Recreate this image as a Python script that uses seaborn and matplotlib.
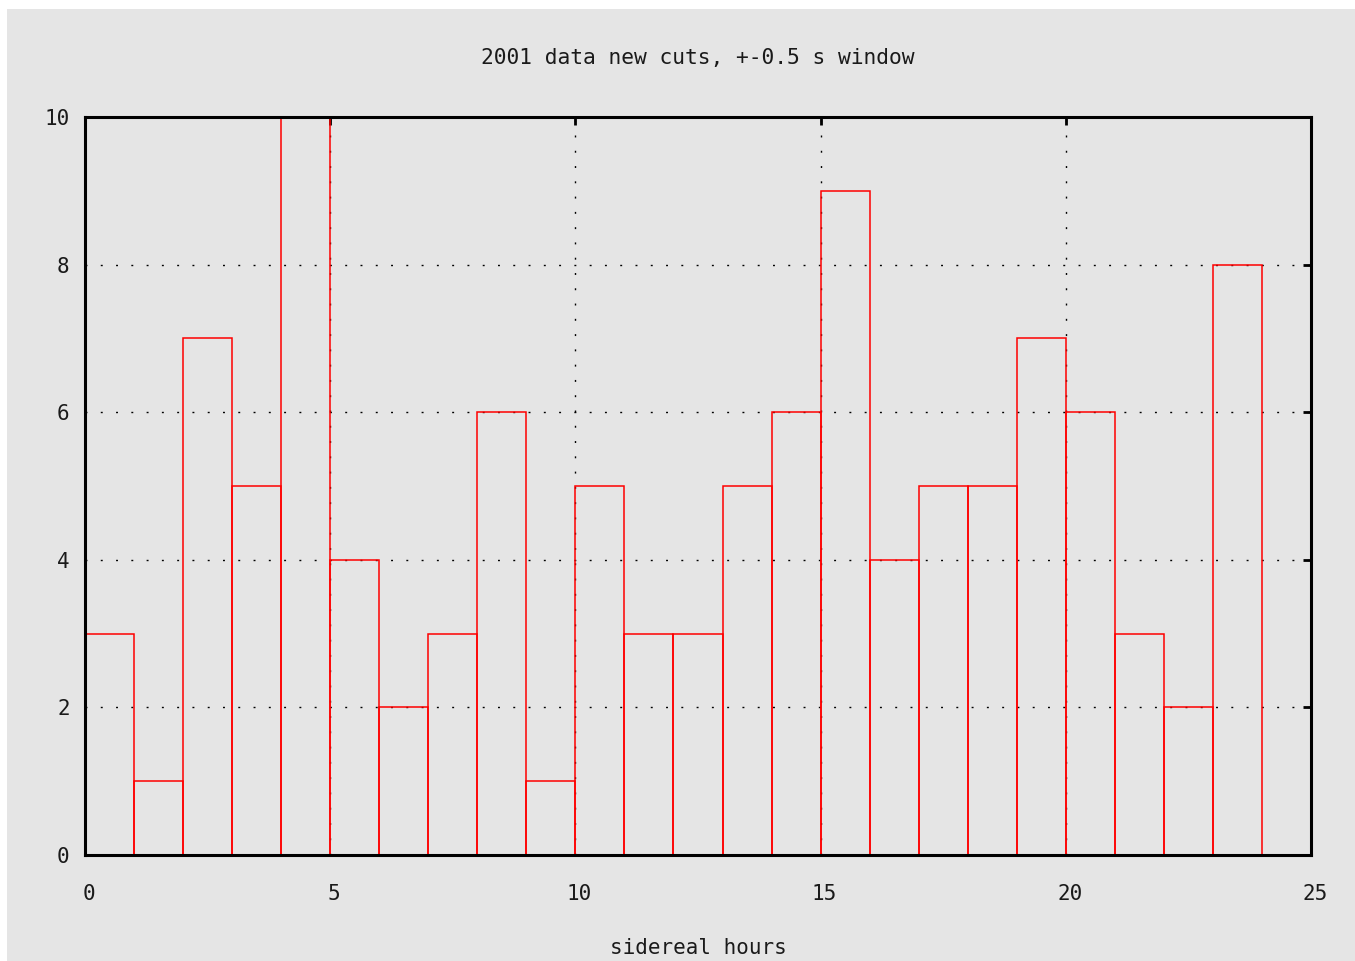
import matplotlib
matplotlib.use("Agg")
import matplotlib.pyplot as plt
import matplotlib.transforms as mtransforms
import seaborn as sns
import pandas as pd
from matplotlib.patches import Rectangle

# data: sidereal hour bins (left edges) and counts
hours = list(range(24))
counts = [3, 1, 7, 5, 10, 4, 2, 3, 6, 1, 5, 3, 3, 5, 6, 9, 4, 5, 5, 7, 6, 3, 2, 8]
bin_edges = list(range(25))
xticks = [0, 5, 10, 15, 20, 25]
yticks = [0, 2, 4, 6, 8, 10]
title = "2001 data new cuts, +-0.5 s window"
xlabel = "sidereal hours"

df = pd.DataFrame({"hour": [h + 0.5 for h in hours], "count": counts})

sns.set_style("white")
plt.rcParams["font.family"] = ["DejaVu Sans Mono"]

W, H = 1355, 961
fig = plt.figure(figsize=(W / 100, H / 100), dpi=100, facecolor="white")
fig.patches.append(Rectangle((7 / W, 0), 1 - 7 / W, 1 - 9 / H, transform=fig.transFigure,
                             facecolor="#e5e5e5", edgecolor="none", zorder=-10))

ax = fig.add_axes([85 / W, 1 - 855 / H, (1311 - 85) / W, (855 - 117) / H])
ax.set_facecolor("#e5e5e5")

sns.histplot(data=df, x="hour", weights="count", bins=bin_edges, element="bars",
             fill=False, color="#ff0000", linewidth=1.1, ax=ax, zorder=3)

ax.set_xlim(0, 25)
ax.set_ylim(0, 10)
ax.set_xticks(xticks)
ax.set_yticks(yticks)
ax.set_xticklabels([str(t) for t in xticks])
ax.set_yticklabels([str(t) for t in yticks])

for v in [2, 4, 6, 8]:
    ax.axhline(v, color="black", linewidth=1.0, dashes=(1.4, 9.6), zorder=1)
for v in [5, 10, 15, 20]:
    ax.axvline(v, color="black", linewidth=1.0, dashes=(1.4, 9.6), zorder=1)

for s in ax.spines.values():
    s.set_visible(True)
    s.set_color("black")
    s.set_linewidth(2.2)
    s.set_zorder(4)

ax.tick_params(axis="both", direction="in", length=6, width=2, color="black",
               top=True, right=True, labelsize=15, labelcolor="#1a1a1a")
ax.tick_params(axis="x", pad=21)
ax.tick_params(axis="y", pad=11)

shift = mtransforms.ScaledTranslation(4 / 100, 0, fig.dpi_scale_trans)
for lbl in ax.get_xticklabels():
    lbl.set_transform(lbl.get_transform() + shift)

ax.set_ylabel("")
ax.set_xlabel(xlabel, fontsize=15, color="#1a1a1a")
ax.xaxis.set_label_coords(0.5, -(948 - 855) / (855 - 117))
ax.xaxis.label.set_va("center")
ax.set_title(title, fontsize=15.3, color="#1a1a1a", y=(855 - 58) / (855 - 117), va="center", pad=0)

fig.savefig("out.png", dpi=100, facecolor=fig.get_facecolor())
